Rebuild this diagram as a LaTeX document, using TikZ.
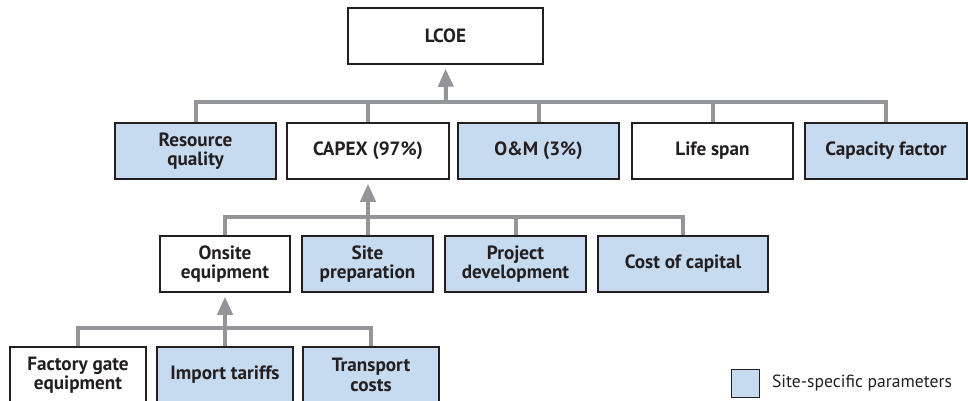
\documentclass[tikz,border=0pt]{standalone}
\usepackage{fontspec}
\setmainfont{PT Sans}
\usepackage{tikz}
\usetikzlibrary{arrows.meta,positioning}
\definecolor{ink}{RGB}{35,31,32}
\definecolor{sitefill}{RGB}{198,218,240}
\definecolor{linkgray}{RGB}{147,149,152}

\begin{document}
\begin{tikzpicture}[
  x=1pt, y=-1pt,
  every node/.style={text=ink, font=\fontsize{19.2}{19.5}\selectfont\bfseries},
  param/.style={draw=ink, line width=1.5pt, fill=white, minimum height=56pt,
    inner sep=0pt, align=center},
  site/.style={param, fill=sitefill},
  link/.style={draw=linkgray, line width=4pt},
  feed/.style={link, -{Triangle[length=18pt,width=15pt]}, shorten >=4pt}
]
\useasboundingbox (0,0) rectangle (968,401);

% top
\node[param, minimum width=195pt] (lcoe) at (445.5,36) {LCOE};

% cost components
\foreach \name/\x/\w/\sty/\txt in {
  resq/195.5/161/site/{Resource\\quality},
  capex/368/162/param/{CAPEX (97\%)},
  om/538.5/161/site/{O\&M (3\%)},
  life/712.5/161/param/{Life span},
  capf/886/162/site/{Capacity factor}}
  \node[\sty, minimum width=\w pt] (\name) at (\x,151) {\txt};

% CAPEX breakdown
\foreach \name/\x/\w/\sty/\txt in {
  onsite/225/130/param/{Onsite\\equipment},
  sitep/367.5/131/site/{Site\\preparation},
  projd/515.5/141/site/{Project\\development},
  coc/683/170/site/{Cost of capital}}
  \node[\sty, minimum width=\w pt] (\name) at (\x,264) {\txt};

% equipment breakdown
\foreach \name/\x/\w/\sty/\txt in {
  factory/78/136/param/{Factory gate\\equipment},
  import/225/136/site/{Import tariffs},
  transp/371/136/site/{Transport\\costs}}
  \node[\sty, minimum width=\w pt] (\name) at (\x,375) {\txt};

% connectors
\coordinate (bus1) at (446,102);
\draw[link] (resq.north) |- (capf.north |- bus1) -- (capf.north);
\foreach \n in {capex,om,life}
  \draw[link] (\n.north) -- (\n.north |- bus1);
\draw[feed] (bus1) -- (lcoe.south);

\coordinate (bus2) at (368,217);
\draw[link] (onsite.north) |- (coc.north |- bus2) -- (coc.north);
\draw[link] (projd.north) -- (projd.north |- bus2);
\draw[feed] (capex.south |- sitep.north) -- (capex.south);

\coordinate (bus3) at (225,328);
\draw[link] (factory.north) |- (transp.north |- bus3) -- (transp.north);
\draw[feed] (import.north) -- (onsite.south);

% legend
\node[site, line width=1pt, minimum width=28pt, minimum height=28pt] (key) at (745,383) {};
\node[right=9pt of key, font=\fontsize{17.6}{20}\selectfont] (keytext) {Site-specific parameters};
\end{tikzpicture}
\end{document}
